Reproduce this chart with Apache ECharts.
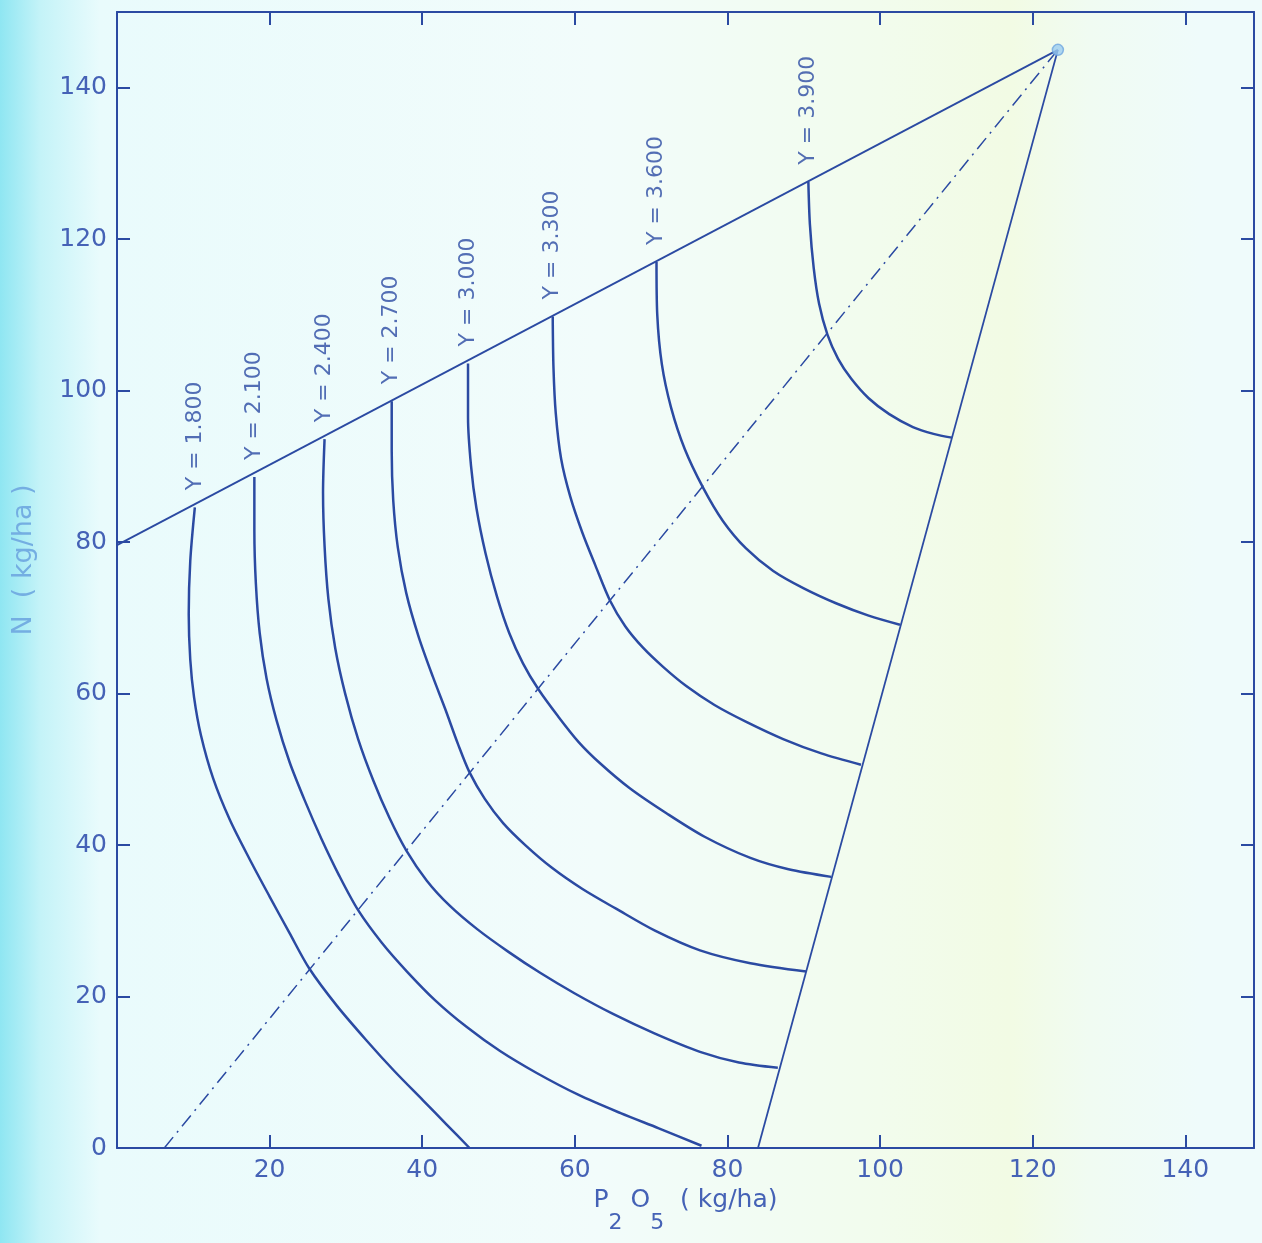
<!DOCTYPE html>
<html>
<head>
<meta charset="utf-8">
<script src="https://cdn.jsdelivr.net/npm/echarts@6/dist/echarts.min.js"></script>
<style>
  html, body { margin: 0; padding: 0; }
  body {
    width: 1262px; height: 1243px; overflow: hidden;
    background: linear-gradient(to right, #8fe6f2 0px, #c4f3f8 40px, #e9fbfc 100px, #f2fcfb 600px, #f2fced 880px, #f2fbe4 1010px, #f0fbf2 1090px, #effbfb 1200px);
  }
  #main { width: 1262px; height: 1243px; }
</style>
</head>
<body>
<div id="main"></div>
<script>
// iso-yield curves, [P2O5, N] in kg/ha, from the upper ridge down
var curve1800 = [[10.2,84.6],[9.6,77.5],[9.4,70.5],[9.6,64.5],[10.1,59.5],[11.0,54.5],[12.6,48.8],[14.8,43.3],[17.4,38.1],[20.0,33.2],[22.6,28.4],[25.2,23.7],[28.8,18.8],[32.7,14.2],[36.4,10.1],[40.1,6.3],[43.2,3.1],[46.2,0]];
var curve2100 = [[18.0,88.6],[18.0,81.5],[18.2,74.5],[18.7,68],[19.6,62],[20.9,56.5],[22.6,51.0],[24.6,45.9],[26.8,40.8],[29.1,36.0],[31.6,31.4],[34.7,27.1],[38.0,23.3],[41.7,19.5],[45.8,16.0],[50.2,12.8],[55.0,9.9],[60.5,7.0],[66,4.6],[71,2.6],[76.6,0.3]];
var curve2400 = [[27.2,93.6],[27.0,86.5],[27.2,79.5],[27.7,72.5],[28.6,66],[29.9,60],[31.6,54],[33.6,48.5],[35.7,43.6],[37.9,39.3],[40.6,35.3],[43.6,32.0],[47.2,28.9],[51.3,25.9],[55.5,23.1],[60,20.4],[65,17.7],[70.5,15.1],[76.4,12.7],[81.5,11.3],[86.6,10.6]];
var curve2700 = [[36.0,98.6],[36.0,92],[36.2,85.5],[36.8,79.3],[37.9,73.3],[39.5,67.6],[41.4,62.2],[43.0,58.0],[44.7,53.3],[46.2,49.6],[48.2,46.1],[50.6,42.9],[53.5,40.0],[57,37.0],[61,34.2],[65.4,31.6],[70.5,28.7],[76.4,26.1],[83,24.4],[90.3,23.3]];
var curve3000 = [[46.0,103.6],[46.0,96.5],[46.4,90],[47.1,84.5],[48.3,78.5],[49.8,72.8],[51.4,68.0],[53.2,64.0],[55.2,60.6],[57.8,57.0],[60.5,53.6],[63.3,50.8],[67.2,47.5],[72.0,44.2],[77,41.1],[83,38.3],[88,36.8],[93.6,35.8]];
var curve3300 = [[57.1,109.8],[57.2,103],[57.5,97],[58.2,91],[59.4,86],[61.0,81.2],[62.7,76.9],[64.6,72.3],[66.6,68.9],[68.9,66.1],[71.6,63.5],[74.6,61.0],[78.3,58.5],[82.6,56.2],[87.3,54.0],[92.3,52.1],[97.5,50.6]];
var curve3600 = [[70.7,117.0],[70.8,110],[71.4,103.5],[72.6,97.8],[74.4,92.3],[76.8,87.2],[79.4,82.8],[82.4,79.2],[86,76.2],[90,73.9],[94.3,71.9],[98.5,70.3],[102.6,69.1]];
var curve3900 = [[90.6,127.6],[90.8,122],[91.3,116.2],[92.0,111.5],[93.1,107.4],[94.5,104.2],[96.2,101.6],[98.5,99.0],[101.2,96.9],[104.3,95.2],[107,94.3],[109.4,93.8]];
var curves = [curve1800, curve2100, curve2400, curve2700, curve3000, curve3300, curve3600, curve3900];
var yieldLabels = ['Y = 1.800', 'Y = 2.100', 'Y = 2.400', 'Y = 2.700', 'Y = 3.000', 'Y = 3.300', 'Y = 3.600', 'Y = 3.900'];

// ridge lines, expansion path and the maximum
var upperRidge = [[0,79.6],[123.3,145]];
var lowerRidge = [[84.0,0],[123.3,145]];
var expansionPath = [[6.2,0],[123.3,145]];
var maxPoint = [123.3,145];

var ink = '#2b4aa2';
var labelInk = '#4562b6';

var chart = echarts.init(document.getElementById('main'), null, {renderer: 'canvas'});

var series = [];
curves.forEach(function (c, i) {
  series.push({
    name: yieldLabels[i],
    type: 'line',
    data: c,
    smooth: 0.3,
    showSymbol: false,
    lineStyle: {color: ink, width: 2.5},
    z: 3
  });
});
series.push({
  type: 'line', data: upperRidge, showSymbol: false,
  lineStyle: {color: ink, width: 1.8}
});
series.push({
  type: 'line', data: lowerRidge, showSymbol: false,
  lineStyle: {color: ink, width: 1.8}
});
series.push({
  type: 'line', data: expansionPath, showSymbol: false,
  lineStyle: {color: ink, width: 1.5, type: [14, 6, 2, 6]}
});
series.push({
  type: 'scatter', data: [maxPoint], symbol: 'circle', symbolSize: 11,
  itemStyle: {color: '#9ccdf0', borderColor: '#6fa6e0', borderWidth: 1.5},
  z: 5
});
// curve labels sit on the top end of each curve
series.push({
  type: 'scatter',
  data: curves.map(function (c, i) { return {value: c[0], name: yieldLabels[i]}; }),
  symbolSize: 0,
  label: {
    show: true,
    formatter: '{b}',
    position: 'top',
    distance: 17,
    rotate: 90,
    align: 'left',
    verticalAlign: 'middle',
    color: ink,
    fontFamily: 'DejaVu Sans',
    fontSize: 22
  },
  z: 4
});

var axisLine = {show: true, onZero: false, lineStyle: {color: ink, width: 2}};
var axisTick = {show: true, inside: true, length: 13, lineStyle: {color: ink, width: 2}};

chart.setOption({
  backgroundColor: 'transparent',
  animation: false,
  grid: {left: 117, right: 8, top: 12, bottom: 95, outerBoundsMode: 'none'},
  xAxis: [{
    type: 'value', min: 0, max: 149, interval: 20, position: 'bottom',
    axisLine: axisLine, axisTick: axisTick, splitLine: {show: false},
    axisLabel: {color: labelInk, fontSize: 25, fontFamily: 'DejaVu Sans', margin: 10, showMinLabel: false, showMaxLabel: false},
    name: '{a|P}{s|2}{a| O}{s|5}{a|  ( kg/ha)}',
    nameLocation: 'middle',
    nameGap: 36,
    nameTextStyle: {
      color: labelInk,
      rich: {
        a: {fontSize: 25, fontFamily: 'DejaVu Sans', color: labelInk, lineHeight: 30, verticalAlign: 'top'},
        s: {fontSize: 22, fontFamily: 'DejaVu Sans', color: labelInk, lineHeight: 46, verticalAlign: 'bottom'}
      }
    }
  }, {
    type: 'value', min: 0, max: 149, interval: 20, position: 'top',
    axisLine: axisLine, axisTick: axisTick, splitLine: {show: false},
    axisLabel: {show: false}
  }],
  yAxis: [{
    type: 'value', min: 0, max: 150, interval: 20, position: 'left',
    axisLine: axisLine, axisTick: axisTick, splitLine: {show: false},
    axisLabel: {color: labelInk, fontSize: 25, fontFamily: 'DejaVu Sans', margin: 10, showMaxLabel: false},
    name: 'N  ( kg/ha )',
    nameLocation: 'middle',
    nameGap: 80,
    nameTextStyle: {color: '#74aee2', fontSize: 27, fontFamily: 'DejaVu Sans', padding: [0, 0, 0, 40]}
  }, {
    type: 'value', min: 0, max: 150, interval: 20, position: 'right',
    axisLine: axisLine, axisTick: axisTick, splitLine: {show: false},
    axisLabel: {show: false}
  }],
  series: series
});
</script>
</body>
</html>
